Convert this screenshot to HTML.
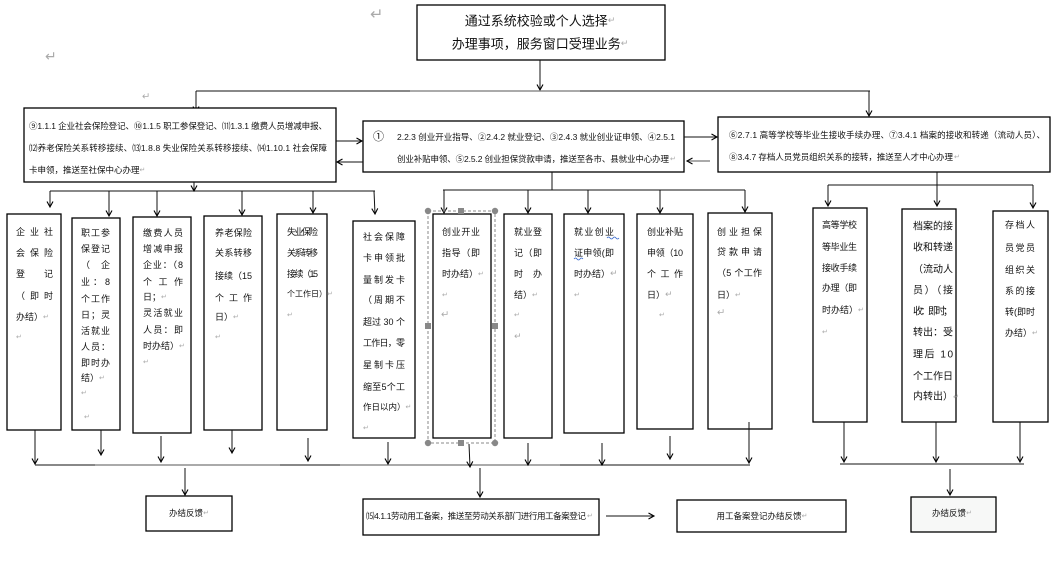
<!DOCTYPE html>
<html>
<head>
<meta charset="utf-8">
<style>
  html,body{margin:0;padding:0;background:#fff;}
  svg{display:block;}
  text{font-family:"Liberation Sans","Noto Sans CJK SC",sans-serif;fill:#111;dominant-baseline:central;}
  .r{fill:#aaa;font-family:"DejaVu Sans","Liberation Sans",sans-serif;}
  .b{fill:#fff;stroke:#000;stroke-width:1.3;}
  .l{stroke:#111;stroke-width:1;fill:none;}
  .g{stroke:#777;stroke-width:1.2;fill:none;}
  .t9{font-size:9px;}
  .t8{font-size:8.5px;}
</style>
</head>
<body>
<svg width="1061" height="566" viewBox="0 0 1061 566" xmlns="http://www.w3.org/2000/svg">
<defs>
  <marker id="a" markerWidth="8" markerHeight="8" refX="6.5" refY="4" orient="auto" markerUnits="userSpaceOnUse">
    <path d="M1,1 L6.5,4 L1,7" fill="none" stroke="#000" stroke-width="1.1"/>
  </marker>
</defs>

<!-- stray return marks -->
<text x="370" y="14" class="r" font-size="16">↵</text>
<text x="45" y="57" class="r" font-size="14">↵</text>
<text x="142" y="97" class="r" font-size="10">↵</text>

<!-- top box -->
<rect class="b" x="417" y="5" width="248" height="55"/>
<text x="540" y="21" text-anchor="middle" font-size="13">通过系统校验或个人选择<tspan class="r" font-size="9">↵</tspan></text>
<text x="540" y="44" text-anchor="middle" font-size="13">办理事项，服务窗口受理业务<tspan class="r" font-size="9">↵</tspan></text>

<!-- top connectors -->
<line class="l" x1="540" y1="60" x2="540" y2="90" marker-end="url(#a)"/>
<line class="l" x1="196" y1="91" x2="410" y2="91"/>
<line class="g" x1="410" y1="91" x2="580" y2="91"/>
<line class="l" x1="580" y1="91" x2="870" y2="91"/>
<line class="l" x1="196" y1="91" x2="196" y2="112" marker-end="url(#a)"/>
<line class="l" x1="869" y1="91" x2="869" y2="116" marker-end="url(#a)"/>

<!-- left box -->
<rect class="b" x="24" y="108" width="312" height="74"/>
<text class="t8" x="29" y="126" textLength="298" lengthAdjust="spacing">⑨1.1.1 企业社会保险登记、⑩1.1.5 职工参保登记、⑾1.3.1 缴费人员增减申报、</text>
<text class="t8" x="29" y="148" textLength="298" lengthAdjust="spacing">⑿养老保险关系转移接续、⒀1.8.8 失业保险关系转移接续、⒁1.10.1 社会保障</text>
<text class="t8" x="29" y="170">卡申领，推送至社保中心办理<tspan class="r" font-size="7">↵</tspan></text>

<!-- middle box -->
<rect class="b" x="363" y="121" width="321" height="51"/>
<text x="373" y="137" font-size="11">①</text>
<text class="t8" x="397" y="137" textLength="278" lengthAdjust="spacing">2.2.3 创业开业指导、②2.4.2 就业登记、③2.4.3 就业创业证申领、④2.5.1</text>
<text class="t8" x="397" y="159" textLength="272" lengthAdjust="spacing">创业补贴申领、⑤2.5.2 创业担保贷款申请，推送至各市、县就业中心办理</text>
<text class="r" x="670" y="159" font-size="7">↵</text>

<!-- right box -->
<rect class="b" x="718" y="117" width="332" height="55"/>
<text class="t8" x="729" y="135" textLength="316" lengthAdjust="spacing">⑥2.7.1 高等学校等毕业生接收手续办理、⑦3.4.1 档案的接收和转递（流动人员）、</text>
<text class="t8" x="729" y="157" textLength="224" lengthAdjust="spacing">⑧3.4.7 存档人员党员组织关系的接转，推送至人才中心办理</text>
<text class="r" x="954" y="157" font-size="7">↵</text>

<!-- arrows between upper boxes -->
<line class="l" x1="336" y1="141" x2="362" y2="141" marker-end="url(#a)"/>
<line class="l" x1="363" y1="162" x2="337" y2="162" marker-end="url(#a)"/>
<line class="l" x1="684" y1="137" x2="717" y2="137" marker-end="url(#a)"/>
<line class="g" x1="710" y1="161" x2="687" y2="161" marker-end="url(#a)"/>

<!-- left fan-out -->
<line class="l" x1="194" y1="182" x2="194" y2="191" marker-end="url(#a)"/>
<line class="l" x1="50" y1="191" x2="375" y2="191"/>
<line class="l" x1="50" y1="191" x2="50" y2="207" marker-end="url(#a)"/>
<line class="l" x1="109" y1="191" x2="109" y2="216" marker-end="url(#a)"/>
<line class="l" x1="157" y1="191" x2="157" y2="216" marker-end="url(#a)"/>
<line class="l" x1="242" y1="191" x2="242" y2="215" marker-end="url(#a)"/>
<line class="l" x1="313" y1="191" x2="313" y2="213" marker-end="url(#a)"/>
<line class="l" x1="374" y1="191" x2="375" y2="214" marker-end="url(#a)"/>

<!-- middle fan-out -->
<line class="l" x1="552" y1="172" x2="552" y2="190"/>
<line class="l" x1="443" y1="190" x2="745" y2="190"/>
<line class="l" x1="444" y1="190" x2="444" y2="213" marker-end="url(#a)"/>
<line class="l" x1="528" y1="190" x2="528" y2="213" marker-end="url(#a)"/>
<line class="l" x1="588" y1="190" x2="588" y2="213" marker-end="url(#a)"/>
<line class="l" x1="660" y1="190" x2="660" y2="213" marker-end="url(#a)"/>
<line class="l" x1="745" y1="190" x2="745" y2="212" marker-end="url(#a)"/>

<!-- right fan-out -->
<line class="l" x1="937" y1="172" x2="937" y2="185"/>
<line class="l" x1="828" y1="185" x2="1033" y2="185"/>
<line class="l" x1="828" y1="185" x2="828" y2="206" marker-end="url(#a)"/>
<line class="l" x1="937" y1="185" x2="937" y2="206" marker-end="url(#a)"/>
<line class="l" x1="1033" y1="185" x2="1033" y2="208" marker-end="url(#a)"/>

<!-- tall boxes -->
<rect class="b" x="7" y="214" width="54" height="216"/>
<rect class="b" x="72" y="218" width="48" height="212"/>
<rect class="b" x="133" y="217" width="58" height="216"/>
<rect class="b" x="204" y="216" width="58" height="214"/>
<rect class="b" x="277" y="214" width="50" height="216"/>
<rect class="b" x="353" y="221" width="62" height="217"/>
<rect class="b" x="433" y="214" width="58" height="224"/>
<rect class="b" x="504" y="214" width="48" height="224"/>
<rect class="b" x="564" y="214" width="60" height="219"/>
<rect class="b" x="637" y="214" width="56" height="215"/>
<rect class="b" x="708" y="213" width="64" height="216"/>
<rect class="b" x="813" y="208" width="54" height="214"/>
<rect class="b" x="902" y="209" width="54" height="213"/>
<rect class="b" x="993" y="211" width="55" height="211"/>

<!-- selection frame around B7 -->
<rect x="428" y="211" width="67" height="232" fill="none" stroke="#888" stroke-width="1" stroke-dasharray="3,2"/>
<circle cx="428" cy="211" r="3.2" fill="#888"/>
<circle cx="495" cy="211" r="3.2" fill="#888"/>
<circle cx="428" cy="443" r="3.2" fill="#888"/>
<circle cx="495" cy="443" r="3.2" fill="#888"/>
<rect x="458" y="208" width="6" height="6" fill="#888"/>
<rect x="458" y="440" width="6" height="6" fill="#888"/>
<rect x="425" y="323" width="6" height="6" fill="#888"/>
<rect x="492" y="323" width="6" height="6" fill="#888"/>

<!-- B1 -->
<g class="t9">
<text x="16" y="232" textLength="37" lengthAdjust="spacing">企业社</text>
<text x="16" y="253" textLength="37" lengthAdjust="spacing">会保险</text>
<text x="16" y="274" textLength="37" lengthAdjust="spacing">登记</text>
<text x="16" y="296" textLength="37" lengthAdjust="spacing">（即时</text>
<text x="16" y="317">办结）<tspan class="r" font-size="7">↵</tspan></text>
<text x="16" y="337" class="r" font-size="7">↵</text>
</g>

<!-- B2 -->
<g class="t9">
<text x="81" y="233" textLength="29" lengthAdjust="spacing">职工参</text>
<text x="81" y="249" textLength="29" lengthAdjust="spacing">保登记</text>
<text x="81" y="265" textLength="29" lengthAdjust="spacing">（ 企</text>
<text x="81" y="282" textLength="29" lengthAdjust="spacing">业 ： 8</text>
<text x="81" y="299" textLength="29" lengthAdjust="spacing">个工作</text>
<text x="81" y="315" textLength="29" lengthAdjust="spacing">日；灵</text>
<text x="81" y="331" textLength="29" lengthAdjust="spacing">活就业</text>
<text x="81" y="347" textLength="29" lengthAdjust="spacing">人员：</text>
<text x="81" y="363" textLength="29" lengthAdjust="spacing">即时办</text>
<text x="81" y="378">结）<tspan class="r" font-size="7">↵</tspan></text>
<text x="81" y="393" class="r" font-size="7">↵</text>
<text x="84" y="417" class="r" font-size="7">↵</text>
</g>

<!-- B3 -->
<g class="t9">
<text x="143" y="233" textLength="40" lengthAdjust="spacing">缴费人员</text>
<text x="143" y="249" textLength="40" lengthAdjust="spacing">增减申报</text>
<text x="143" y="265" textLength="40" lengthAdjust="spacing">企业：（8</text>
<text x="143" y="282" textLength="40" lengthAdjust="spacing">个 工 作</text>
<text x="143" y="297">日；<tspan class="r" font-size="7">↵</tspan></text>
<text x="143" y="313" textLength="40" lengthAdjust="spacing">灵活就业</text>
<text x="143" y="330" textLength="40" lengthAdjust="spacing">人员：即</text>
<text x="143" y="346">时办结）<tspan class="r" font-size="7">↵</tspan></text>
<text x="143" y="362" class="r" font-size="7">↵</text>
</g>

<!-- B4 -->
<g class="t9">
<text x="215" y="233" textLength="37" lengthAdjust="spacing">养老保险</text>
<text x="215" y="253" textLength="37" lengthAdjust="spacing">关系转移</text>
<text x="215" y="276" textLength="37" lengthAdjust="spacing">接续（15</text>
<text x="215" y="298" textLength="37" lengthAdjust="spacing">个 工 作</text>
<text x="215" y="317">日）<tspan class="r" font-size="7">↵</tspan></text>
<text x="215" y="337" class="r" font-size="7">↵</text>
</g>

<!-- B5 -->
<g class="t9">
<text x="287" y="232" textLength="31" lengthAdjust="spacing">失业保险</text>
<text x="287" y="253" textLength="31" lengthAdjust="spacing">关系转移</text>
<text x="287" y="274" textLength="31" lengthAdjust="spacing">接续（15</text>
<text x="287" y="294" font-size="8">个工作日）<tspan class="r" font-size="7">↵</tspan></text>
<text x="287" y="315" class="r" font-size="7">↵</text>
</g>

<!-- B6 -->
<g class="t9">
<text x="363" y="237" textLength="42" lengthAdjust="spacing">社会保障</text>
<text x="363" y="258" textLength="42" lengthAdjust="spacing">卡申领批</text>
<text x="363" y="280" textLength="42" lengthAdjust="spacing">量制发卡</text>
<text x="363" y="300" textLength="42" lengthAdjust="spacing">（周期不</text>
<text x="363" y="322" textLength="42" lengthAdjust="spacing">超过 30 个</text>
<text x="363" y="343" textLength="42" lengthAdjust="spacing">工作日，零</text>
<text x="363" y="365" textLength="42" lengthAdjust="spacing">星制卡压</text>
<text x="363" y="387" textLength="42" lengthAdjust="spacing">缩至5个工</text>
<text x="363" y="407" font-size="8.5">作日以内）<tspan class="r" font-size="7">↵</tspan></text>
<text x="363" y="428" class="r" font-size="7">↵</text>
</g>

<!-- B7 -->
<g class="t9">
<text x="442" y="232" textLength="38" lengthAdjust="spacing">创业开业</text>
<text x="442" y="253" textLength="38" lengthAdjust="spacing">指导（即</text>
<text x="442" y="274">时办结）<tspan class="r" font-size="7">↵</tspan></text>
<text x="442" y="295" class="r" font-size="7">↵</text>
<text x="441" y="315" class="r" font-size="10">↵</text>
</g>

<!-- B8 -->
<g class="t9">
<text x="514" y="232" textLength="28" lengthAdjust="spacing">就业登</text>
<text x="514" y="253" textLength="28" lengthAdjust="spacing">记（即</text>
<text x="514" y="274" textLength="28" lengthAdjust="spacing">时　办</text>
<text x="514" y="295">结）<tspan class="r" font-size="7">↵</tspan></text>
<text x="514" y="315" class="r" font-size="7">↵</text>
<text x="514" y="337" class="r" font-size="9">↵</text>
</g>

<!-- B9 -->
<g class="t9">
<text x="574" y="232" textLength="40" lengthAdjust="spacing">就业创业</text>
<text x="574" y="253" textLength="40" lengthAdjust="spacing">证申领(即</text>
<text x="574" y="274">时办结）<tspan class="r" font-size="9">↵</tspan></text>
<text x="574" y="295" class="r" font-size="7">↵</text>
</g>
<path d="M607,238 q1.5,-2 3,0 t3,0 t3,0 t3,0" fill="none" stroke="#36c" stroke-width="0.8"/>
<path d="M574,259 q1.5,-2 3,0 t3,0 t3,0" fill="none" stroke="#36c" stroke-width="0.8"/>

<!-- B10 -->
<g class="t9">
<text x="647" y="232" textLength="36" lengthAdjust="spacing">创业补贴</text>
<text x="647" y="253" textLength="36" lengthAdjust="spacing">申领（10</text>
<text x="647" y="274" textLength="36" lengthAdjust="spacing">个 工 作</text>
<text x="647" y="295">日）<tspan class="r" font-size="9">↵</tspan></text>
<text x="659" y="315" class="r" font-size="7">↵</text>
</g>

<!-- B11 -->
<g class="t9">
<text x="717" y="232" textLength="45" lengthAdjust="spacing">创业担保</text>
<text x="717" y="252" textLength="45" lengthAdjust="spacing">贷款申请</text>
<text x="717" y="273" textLength="45" lengthAdjust="spacing">（5 个工作</text>
<text x="717" y="295">日）<tspan class="r" font-size="7">↵</tspan></text>
<text x="717" y="313" class="r" font-size="10">↵</text>
</g>

<!-- B12 -->
<g class="t9">
<text x="822" y="225" textLength="35" lengthAdjust="spacing">高等学校</text>
<text x="822" y="247" textLength="35" lengthAdjust="spacing">等毕业生</text>
<text x="822" y="268" textLength="35" lengthAdjust="spacing">接收手续</text>
<text x="822" y="288" textLength="35" lengthAdjust="spacing">办理（即</text>
<text x="822" y="310">时办结）<tspan class="r" font-size="7">↵</tspan></text>
<text x="822" y="332" class="r" font-size="7">↵</text>
</g>

<!-- B13 -->
<g font-size="10">
<text x="913" y="227" textLength="40" lengthAdjust="spacing">档案的接</text>
<text x="913" y="248" textLength="40" lengthAdjust="spacing">收和转递</text>
<text x="913" y="270" textLength="40" lengthAdjust="spacing">（流动人</text>
<text x="913" y="291" textLength="40" lengthAdjust="spacing">员）（接</text>
<text x="913" y="312" textLength="40" lengthAdjust="spacing">收：即时；</text>
<text x="913" y="333" textLength="40" lengthAdjust="spacing">转出：受</text>
<text x="913" y="355" textLength="40" lengthAdjust="spacing">理后 10</text>
<text x="913" y="377" textLength="40" lengthAdjust="spacing">个工作日</text>
<text x="913" y="397">内转出）<tspan class="r" font-size="7">↵</tspan></text>
</g>

<!-- B14 -->
<g class="t9">
<text x="1005" y="225" textLength="30" lengthAdjust="spacing">存档人</text>
<text x="1005" y="248" textLength="30" lengthAdjust="spacing">员党员</text>
<text x="1005" y="270" textLength="30" lengthAdjust="spacing">组织关</text>
<text x="1005" y="291" textLength="30" lengthAdjust="spacing">系的接</text>
<text x="1005" y="312" textLength="30" lengthAdjust="spacing">转(即时</text>
<text x="1005" y="333">办结）<tspan class="r" font-size="7">↵</tspan></text>
</g>

<!-- bottom collectors (left/middle) -->
<line class="l" x1="35" y1="465" x2="95" y2="465"/>
<line class="g" x1="95" y1="465" x2="280" y2="465"/>
<line class="l" x1="280" y1="465" x2="340" y2="465"/>
<line class="g" x1="340" y1="465" x2="560" y2="465"/>
<line class="l" x1="560" y1="465" x2="750" y2="465"/>
<line class="l" x1="35" y1="430" x2="35" y2="464" marker-end="url(#a)"/>
<line class="l" x1="101" y1="430" x2="101" y2="455" marker-end="url(#a)"/>
<line class="l" x1="161" y1="436" x2="161" y2="462" marker-end="url(#a)"/>
<line class="l" x1="232" y1="430" x2="232" y2="453" marker-end="url(#a)"/>
<line class="l" x1="308" y1="438" x2="308" y2="461" marker-end="url(#a)"/>
<line class="l" x1="388" y1="442" x2="388" y2="464" marker-end="url(#a)"/>
<line class="l" x1="469" y1="444" x2="470" y2="467" marker-end="url(#a)"/>
<line class="l" x1="528" y1="443" x2="528" y2="465" marker-end="url(#a)"/>
<line class="l" x1="602" y1="443" x2="602" y2="465" marker-end="url(#a)"/>
<line class="l" x1="670" y1="436" x2="670" y2="459" marker-end="url(#a)"/>
<line class="l" x1="749" y1="422" x2="749" y2="463" marker-end="url(#a)"/>

<line class="l" x1="185" y1="468" x2="185" y2="495" marker-end="url(#a)"/>
<line class="l" x1="480" y1="468" x2="480" y2="497" marker-end="url(#a)"/>

<!-- bottom boxes -->
<rect class="b" x="146" y="496" width="86" height="35"/>
<text x="189" y="513" text-anchor="middle" font-size="8.5">办结反馈<tspan class="r" font-size="7">↵</tspan></text>

<rect class="b" x="363" y="499" width="236" height="36"/>
<text x="366" y="516" font-size="8.5" textLength="220" lengthAdjust="spacing">⒂4.1.1劳动用工备案，推送至劳动关系部门进行用工备案登记</text>
<text class="r" x="587" y="516" font-size="7">↵</text>

<line class="l" x1="606" y1="516" x2="654" y2="516" marker-end="url(#a)"/>

<rect class="b" x="677" y="500" width="169" height="32"/>
<text x="762" y="516" text-anchor="middle" font-size="8.5">用工备案登记办结反馈<tspan class="r" font-size="7">↵</tspan></text>

<!-- right collector -->
<line class="l" x1="844" y1="422" x2="844" y2="462" marker-end="url(#a)"/>
<line class="l" x1="936" y1="422" x2="936" y2="462" marker-end="url(#a)"/>
<line class="l" x1="1020" y1="422" x2="1020" y2="462" marker-end="url(#a)"/>
<line class="l" x1="840" y1="464" x2="1024" y2="464"/>
<line class="l" x1="950" y1="469" x2="950" y2="495" marker-end="url(#a)"/>
<rect x="911" y="497" width="85" height="35" fill="#f7f8f7" stroke="#000" stroke-width="1.3"/>
<text x="952" y="513" text-anchor="middle" font-size="8.5">办结反馈<tspan class="r" font-size="7">↵</tspan></text>
</svg>
</body>
</html>
